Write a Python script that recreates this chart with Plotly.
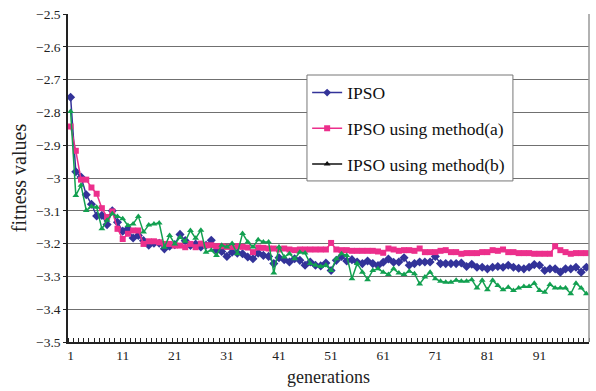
import plotly.graph_objects as go

generations = list(range(1, 101))

ipso = [
    -2.754, -2.981, -2.997, -3.051, -3.080, -3.116, -3.114, -3.142, -3.100, -3.135,
    -3.162, -3.155, -3.183, -3.175, -3.191, -3.205, -3.199, -3.199, -3.216, -3.208,
    -3.203, -3.172, -3.191, -3.206, -3.201, -3.210, -3.205, -3.190, -3.220, -3.224,
    -3.239, -3.226, -3.229, -3.231, -3.241, -3.246, -3.229, -3.236, -3.239, -3.261,
    -3.243, -3.249, -3.256, -3.246, -3.251, -3.266, -3.256, -3.266, -3.268, -3.259,
    -3.282, -3.251, -3.239, -3.253, -3.249, -3.256, -3.261, -3.253, -3.261, -3.267,
    -3.257, -3.247, -3.257, -3.256, -3.243, -3.266, -3.261, -3.256, -3.256, -3.256,
    -3.239, -3.261, -3.261, -3.261, -3.261, -3.259, -3.270, -3.263, -3.272, -3.272,
    -3.277, -3.272, -3.270, -3.272, -3.266, -3.272, -3.275, -3.277, -3.272, -3.264,
    -3.266, -3.282, -3.277, -3.277, -3.287, -3.277, -3.277, -3.272, -3.287, -3.272,
]

ipso_a = [
    -2.843, -2.917, -3.005, -3.005, -3.029, -3.048, -3.092, -3.119, -3.102, -3.155,
    -3.186, -3.170, -3.160, -3.160, -3.201, -3.193, -3.193, -3.196, -3.201, -3.201,
    -3.206, -3.206, -3.211, -3.201, -3.211, -3.200, -3.205, -3.205, -3.208, -3.208,
    -3.210, -3.210, -3.208, -3.210, -3.212, -3.226, -3.212, -3.213, -3.215, -3.215,
    -3.218, -3.215, -3.218, -3.220, -3.218, -3.218, -3.218, -3.218, -3.218, -3.218,
    -3.198, -3.218, -3.220, -3.220, -3.222, -3.222, -3.222, -3.222, -3.222, -3.224,
    -3.228, -3.215, -3.218, -3.222, -3.220, -3.220, -3.222, -3.215, -3.226, -3.226,
    -3.226, -3.222, -3.220, -3.226, -3.226, -3.231, -3.229, -3.229, -3.229, -3.226,
    -3.226, -3.220, -3.222, -3.218, -3.226, -3.226, -3.229, -3.229, -3.229, -3.231,
    -3.231, -3.231, -3.231, -3.208, -3.220, -3.226, -3.231, -3.229, -3.229, -3.229,
]

ipso_b = [
    -2.797, -3.053, -3.022, -3.099, -3.087, -3.089, -3.155, -3.129, -3.109, -3.117,
    -3.124, -3.145, -3.140, -3.117, -3.165, -3.143, -3.140, -3.137, -3.211, -3.175,
    -3.201, -3.181, -3.193, -3.160, -3.184, -3.159, -3.226, -3.220, -3.236, -3.205,
    -3.210, -3.200, -3.231, -3.169, -3.195, -3.210, -3.188, -3.195, -3.195, -3.290,
    -3.210, -3.241, -3.231, -3.246, -3.226, -3.229, -3.261, -3.266, -3.270, -3.266,
    -3.282, -3.246, -3.231, -3.236, -3.307, -3.261, -3.287, -3.310, -3.282, -3.277,
    -3.287, -3.294, -3.277, -3.290, -3.294, -3.284, -3.292, -3.323, -3.302, -3.287,
    -3.307, -3.315, -3.318, -3.318, -3.312, -3.315, -3.315, -3.310, -3.335, -3.312,
    -3.341, -3.312, -3.328, -3.341, -3.333, -3.343, -3.335, -3.331, -3.331, -3.321,
    -3.343, -3.348, -3.325, -3.335, -3.335, -3.335, -3.353, -3.321, -3.335, -3.353,
]

x_tick_vals = [1, 11, 21, 31, 41, 51, 61, 71, 81, 91]
x_tick_text = [str(v) for v in x_tick_vals]

BLUE = "#333399"
PINK = "#ec2f8c"
GREEN = "#12a050"
SERIF = "Liberation Serif"
SANS = "Liberation Sans Narrow"

fig = go.Figure()

fig.add_trace(go.Scatter(
    x=generations, y=ipso, mode="lines+markers", showlegend=False,
    line=dict(color=BLUE, width=1.5),
    marker=dict(symbol="diamond", size=7, color=BLUE),
))
fig.add_trace(go.Scatter(
    x=generations, y=ipso_a, mode="lines+markers", showlegend=False,
    line=dict(color=PINK, width=1.5),
    marker=dict(symbol="square", size=6, color=PINK),
))
fig.add_trace(go.Scatter(
    x=generations, y=ipso_b, mode="lines+markers", showlegend=False,
    line=dict(color=GREEN, width=1.5),
    marker=dict(symbol="triangle-up", size=6, color=GREEN),
))

# legend entries (as in the original: method(b) shown in black)
fig.add_trace(go.Scatter(
    x=[None], y=[None], mode="lines+markers", name="IPSO", legendgroup="g1",
    line=dict(color=BLUE, width=1.5), marker=dict(symbol="diamond", size=6, color=BLUE),
))
fig.add_trace(go.Scatter(
    x=[None], y=[None], mode="lines+markers", name="IPSO using method(a)", legendgroup="g2",
    line=dict(color=PINK, width=1.5), marker=dict(symbol="square", size=6, color=PINK),
))
fig.add_trace(go.Scatter(
    x=[None], y=[None], mode="lines+markers", name="IPSO using method(b)", legendgroup="g3",
    line=dict(color="#111111", width=1.5), marker=dict(symbol="triangle-up", size=6, color="#111111"),
))

fig.update_layout(
    width=596, height=391,
    margin=dict(l=68, r=7, t=14, b=49),
    paper_bgcolor="white", plot_bgcolor="white",
    showlegend=True,
    legend=dict(
        x=0.459, y=0.815, xanchor="left", yanchor="top",
        bgcolor="rgba(0,0,0,0)", borderwidth=0,
        font=dict(family=SERIF, size=17.5, color="#111111"),
        tracegroupgap=10, itemwidth=30,
    ),
    xaxis=dict(
        range=[0.5, 100.5],
        tickmode="array", tickvals=x_tick_vals, ticktext=x_tick_text,
        ticks="", showgrid=False, zeroline=False,
        showline=True, linecolor="#222222", linewidth=1.5,
        tickfont=dict(family=SANS, size=13.5, color="#222222"),
        minor=dict(tick0=0.5, dtick=1, ticks="inside", ticklen=4, tickcolor="#222222", showgrid=False),
        title=dict(text="generations", font=dict(family=SERIF, size=18, color="#222222"), standoff=8),
        mirror=False,
    ),
    yaxis=dict(
        range=[-3.5, -2.5], dtick=0.1, tick0=-3.5,
        ticks="outside", ticklen=3, tickcolor="#222222",
        showgrid=True, gridcolor="#707070", gridwidth=1,
        zeroline=False,
        showline=True, linecolor="#222222", linewidth=1.5,
        tickfont=dict(family=SANS, size=13.5, color="#222222"),
        title=dict(text="fitness values", font=dict(family=SERIF, size=20, color="#222222"), standoff=4),
    ),
    shapes=[
        dict(type="line", xref="paper", yref="paper", x0=1, x1=1, y0=0, y1=1,
             line=dict(color="#999999", width=1.5)),
        dict(type="rect", xref="paper", yref="paper", x0=0.4587, x1=0.854, y0=0.491, y1=0.814,
             layer="above", fillcolor="white", line=dict(color="#777777", width=1)),
    ],
)

fig.write_html("out.html")
